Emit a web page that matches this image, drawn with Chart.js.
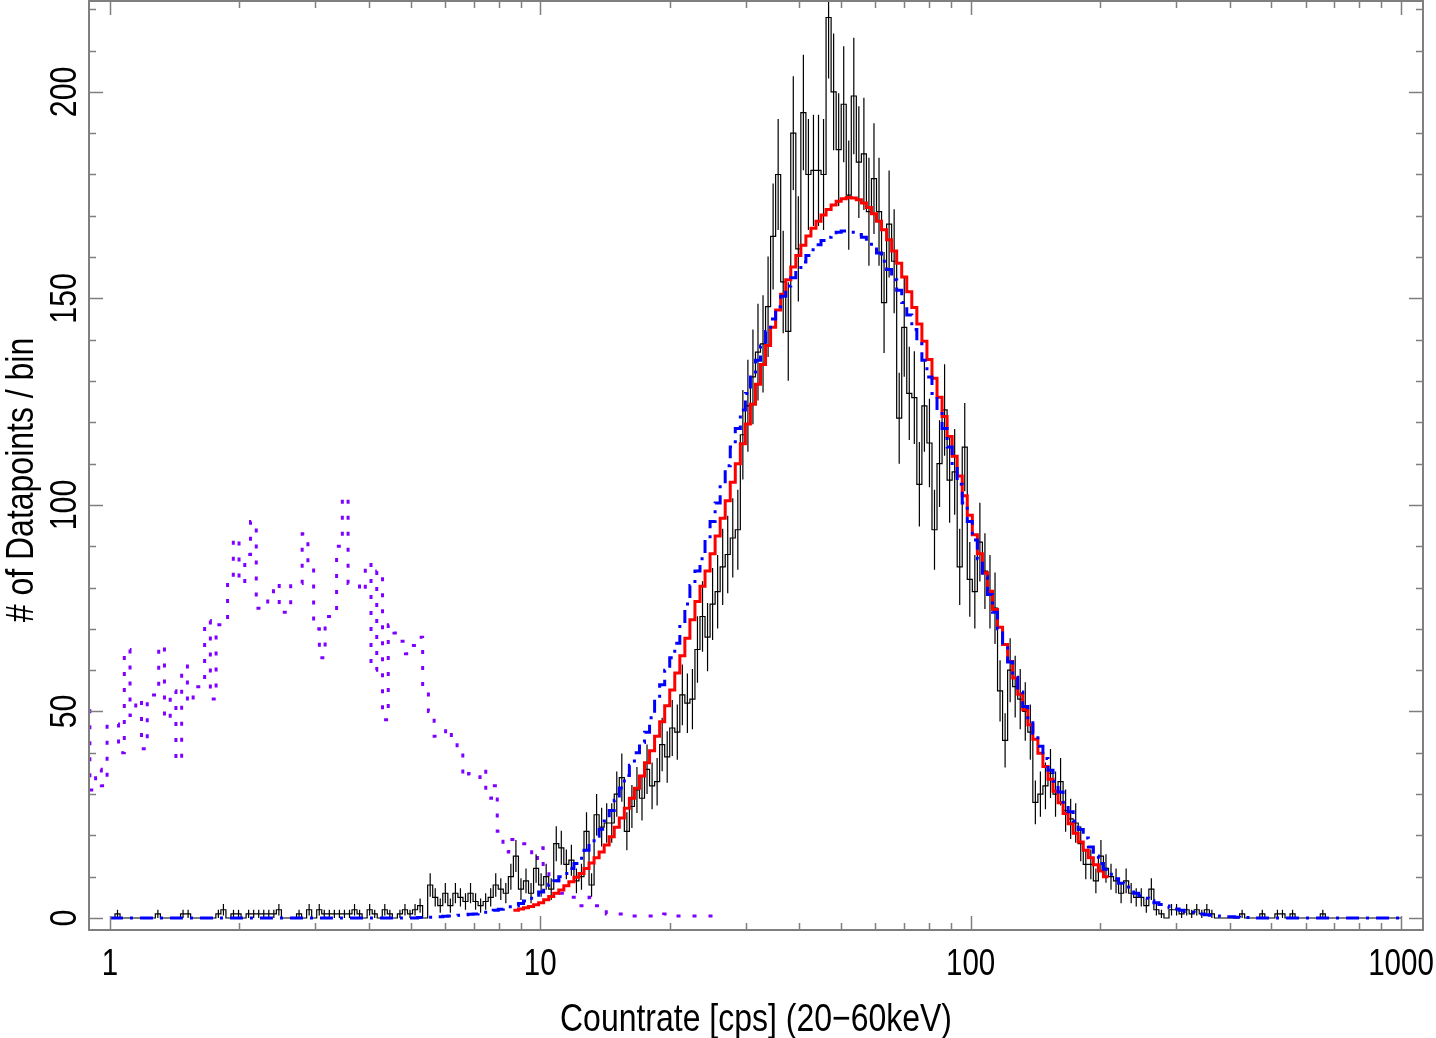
<!DOCTYPE html>
<html>
<head>
<meta charset="utf-8">
<script src="https://cdn.jsdelivr.net/npm/chart.js@4.4.1/dist/chart.umd.min.js"></script>
<style>
  html, body { margin: 0; padding: 0; background: #fff; }
  #chart { display: block; }
</style>
</head>
<body>
<canvas id="chart" width="1436" height="1038"></canvas>
<script>
// log-spaced histogram bins, 1 .. 1000 cps
const histMin = 1;
const histMax = 1000;
const histBins = 256;

// observed distribution (black, with errors)
const blackCounts = [
  0, 1, 0, 0, 0, 0, 0, 0, 0, 1,
  0, 0, 0, 0, 1, 1, 0, 0, 0, 0,
  0, 1, 2, 0, 1, 1, 0, 1, 1, 1,
  1, 1, 1, 2, 0, 0, 0, 1, 0, 2,
  0, 2, 1, 1, 1, 1, 1, 1, 2, 1,
  0, 2, 1, 0, 2, 1, 0, 1, 2, 1,
  2, 3, 0, 8, 5, 3, 6, 3, 6, 5,
  4, 6, 4, 3, 4, 5, 8, 7, 6, 10,
  15, 7, 9, 6, 12, 8, 10, 7, 18, 17,
  13, 14, 9, 10, 21, 8, 25, 22, 23, 23,
  30, 34, 21, 27, 31, 29, 36, 32, 33, 42,
  39, 46, 45, 54, 52, 53, 65, 73, 68, 76,
  79, 85, 88, 92, 94, 117, 124, 131, 137, 139,
  148, 165, 180, 154, 142, 190, 162, 195, 180, 181,
  181, 180, 218, 200, 186, 197, 175, 199, 183, 185,
  171, 179, 171, 149, 168, 159, 121, 143, 127, 126,
  105, 124, 115, 94, 110, 123, 106, 108, 85, 114,
  82, 79, 91, 84, 79, 75, 55, 43, 60, 56,
  53, 50, 45, 28, 30, 32, 35, 30, 33, 26,
  24, 23, 18, 13, 13, 9, 15, 12, 10, 9,
  6, 9, 6, 5, 5, 3, 7, 2, 1, 0,
  2, 2, 1, 2, 1, 2, 1, 2, 1, 0,
  0, 0, 0, 0, 1, 0, 0, 0, 1, 0,
  0, 1, 1, 0, 1, 0, 0, 0, 0, 0,
  1, 0, 0, 0, 0, 0, 0, 0, 0, 0,
  0, 0, 0, 0, 0, 0
];

// red model, starts at bin 80
const redFirstBin = 80;
const redModel = [
  1.9, 2.2, 2.5, 2.8, 3.2, 3.7, 4.4, 5.2, 6.0, 6.8,
  7.8, 8.8, 9.9, 10.8, 12.0, 13.3, 14.6, 16.0, 17.7, 19.7,
  22.0, 24.2, 26.6, 29.0, 31.4, 34.4, 37.6, 40.5, 44.0, 47.5,
  51.4, 55.2, 59.3, 63.5, 67.7, 72.2, 76.6, 80.3, 84.0, 88.2,
  92.5, 96.8, 101.0, 105.5, 110.0, 114.8, 119.6, 124.4, 129.2, 134.0,
  138.6, 143.0, 147.2, 151.0, 154.5, 157.6, 160.4, 162.9, 165.1, 167.0,
  168.7, 170.2, 171.5, 172.6, 173.5, 174.1, 174.4, 174.3, 173.9, 173.1,
  172.0, 170.5, 168.7, 166.6, 164.2, 161.5, 158.5, 155.2, 151.6, 147.8,
  143.8, 139.6, 135.2, 130.7, 126.1, 121.4, 116.6, 111.8, 107.0, 102.2,
  97.5, 92.8, 88.2, 83.6, 79.1, 74.7, 70.4, 66.2, 62.1, 58.1,
  54.2, 50.4, 46.8, 43.3, 39.9, 36.7, 33.6, 30.7, 27.9, 25.3,
  22.8, 20.5, 18.4, 16.4, 14.6, 12.9, 11.4, 10.0
];

// blue model, all bins
const blueModel = [
  0, 0, 0, 0, 0, 0, 0, 0, 0, 0,
  0, 0, 0, 0, 0, 0, 0, 0, 0, 0,
  0, 0, 0, 0, 0, 0, 0, 0, 0, 0,
  0, 0, 0, 0, 0, 0, 0, 0, 0, 0,
  0, 0, 0, 0, 0, 0, 0, 0, 0, 0,
  0, 0, 0, 0, 0, 0, 0, 0, 0, 0,
  0, 0.1, 0.1, 0.2, 0.2, 0.3, 0.4, 0.5, 0.6, 0.7,
  0.8, 0.9, 1.0, 1.2, 1.4, 1.6, 1.9, 2.1, 2.4, 2.7,
  3.0, 3.5, 4.1, 4.8, 5.5, 6.3, 7.2, 8.2, 9.0, 10.0,
  10.8, 12.0, 13.2, 14.5, 16.4, 18.0, 19.8, 21.5, 23.5, 26.0,
  28.5, 31.5, 34.5, 37.0, 40.0, 42.5, 45.0, 48.5, 52.5, 56.5,
  60.0, 63.0, 66.5, 71.0, 76.0, 80.5, 84.0, 87.0, 91.5, 96.0,
  100.5, 105.0, 109.5, 114.0, 118.5, 123.0, 127.0, 131.0, 135.0, 138.5,
  142.0, 145.0, 148.0, 150.5, 153.0, 155.0, 157.0, 158.8, 160.4, 161.8,
  163.0, 164.0, 164.8, 165.5, 166.0, 166.3, 166.3, 166.0, 165.5, 164.8,
  163.8, 162.5, 161.0, 159.0, 157.0, 154.5, 152.0, 149.0, 146.0, 142.5,
  139.0, 135.0, 131.0, 127.0, 122.8, 118.5, 114.0, 109.5, 105.0, 100.5,
  96.0, 91.5, 87.0, 82.6, 78.3, 74.0, 70.0, 66.0, 62.0, 58.3,
  54.7, 51.2, 47.9, 44.7, 41.6, 38.6, 35.8, 33.1, 30.5, 28.0,
  25.7, 23.5, 21.4, 19.4, 17.2, 15.0, 13.2, 11.8, 10.6, 9.5,
  8.4, 7.5, 6.7, 6.0, 5.4, 4.8, 4.2, 3.7, 3.3, 2.9,
  2.5, 2.2, 1.9, 1.6, 1.4, 1.2, 1.0, 0.8, 0.7, 0.5,
  0.4, 0.3, 0.3, 0.2, 0.1, 0.1, 0, 0, 0, 0,
  0, 0, 0, 0, 0, 0, 0, 0, 0, 0,
  0, 0, 0, 0, 0, 0, 0, 0, 0, 0,
  0, 0, 0, 0, 0, 0
];

// purple (dotted) distribution, its own binning: 75 bins per decade
const purpleStartLog = -0.06;
const purpleBinsPerDecade = 75;
const purpleCounts = [
  53, 31, 36, 32, 47, 47, 40, 65, 49, 53,
  41, 54, 54, 66, 48, 55, 38, 61, 52, 56,
  56, 72, 53, 71, 71, 83, 92, 81, 88, 96,
  75, 75, 79, 81, 74, 74, 81, 81, 93, 85,
  70, 63, 73, 73, 90, 102, 81, 81, 79, 86,
  60, 84, 48, 71, 69, 67, 64, 66, 68, 55,
  50, 44, 44, 46, 43, 40, 34, 35, 34, 36,
  29, 32, 21, 16, 19, 18, 18, 18, 14, 17,
  12, 10, 9, 6, 5, 5, 3, 3, 5, 3,
  3, 1, 1, 1, 0.5, 0.5, 0.5, 0.5, 0.5, 0.5,
  0.5, 1, 1, 0.5, 0.5, 0.5, 0.5, 0.5, 0.5, 0.5
];

const xMajorTicks = [1, 10, 100, 1000];
const xMinorTicks = [2, 3, 4, 5, 6, 7, 8, 9, 20, 30, 40, 50, 60, 70, 80, 90,
  200, 300, 400, 500, 600, 700, 800, 900];
const yMajorTicks = [0, 50, 100, 150, 200];
const yMinorTicks = [10, 20, 30, 40, 60, 70, 80, 90, 110, 120, 130, 140,
  160, 170, 180, 190, 210, 220];

const xTitle = "Countrate [cps] (20\u221260keV)";
const yTitle = "# of Datapoints / bin";

function histEdge(i) {
  return histMin * Math.pow(histMax / histMin, i / histBins);
}

function purpleEdge(i) {
  return Math.pow(10, purpleStartLog + i / purpleBinsPerDecade);
}

// histogram outline: one point per left edge, plus closing right edge
function stepPoints(values, firstBin, edgeFn) {
  let pts = values.map((v, i) => ({ x: edgeFn(firstBin + i), y: v }));
  pts.push({ x: edgeFn(firstBin + values.length), y: values[values.length - 1] });
  return pts;
}

function errorBarPoints(values) {
  let pts = [];
  values.forEach((v, i) => {
    if (v <= 0) return;
    let c = histEdge(i + 0.5);
    let e = Math.sqrt(v);
    pts.push({ x: c, y: v - e }, { x: c, y: v + e }, { x: c, y: null });
  });
  return pts;
}

function drawText(ctx, text, x, y, size, rotate) {
  ctx.save();
  ctx.translate(x, y);
  if (rotate) ctx.rotate(-Math.PI / 2);
  ctx.scale(0.82, 1);
  ctx.font = size + 'px "Liberation Sans", Arial, Helvetica, sans-serif';
  ctx.fillStyle = "#000";
  ctx.textAlign = "center";
  ctx.textBaseline = "alphabetic";
  ctx.fillText(text, 0, 0);
  ctx.restore();
}

const framePlugin = {
  id: "frame",
  afterDatasetsDraw(chart) {
    const ctx = chart.ctx;
    const area = chart.chartArea;
    const xs = chart.scales.x;
    const ys = chart.scales.y;

    ctx.save();
    ctx.strokeStyle = "#7f7f7f";
    ctx.lineWidth = 1.5;
    ctx.beginPath();
    const tickX = (v, len) => {
      let px = Math.round(xs.getPixelForValue(v)) + 0.5;
      ctx.moveTo(px, area.bottom); ctx.lineTo(px, area.bottom - len);
      ctx.moveTo(px, area.top); ctx.lineTo(px, area.top + len);
    };
    const tickY = (v, len) => {
      let py = Math.round(ys.getPixelForValue(v)) + 0.5;
      ctx.moveTo(area.left, py); ctx.lineTo(area.left + len, py);
      ctx.moveTo(area.right, py); ctx.lineTo(area.right - len, py);
    };
    xMajorTicks.forEach(v => tickX(v, 14));
    xMinorTicks.forEach(v => tickX(v, 7));
    yMajorTicks.forEach(v => tickY(v, 14));
    yMinorTicks.forEach(v => tickY(v, 7));
    ctx.stroke();

    ctx.lineWidth = 2;
    ctx.strokeRect(area.left, area.top, area.right - area.left, area.bottom - area.top);
    ctx.restore();

    xMajorTicks.forEach(v => drawText(ctx, String(v), xs.getPixelForValue(v), 975, 36, false));
    yMajorTicks.forEach(v => drawText(ctx, String(v), 76, ys.getPixelForValue(v), 37, true));
    drawText(ctx, xTitle, (area.left + area.right) / 2, 1031, 39, false);
    drawText(ctx, yTitle, 33, 480, 39, true);
  }
};

const chart = new Chart(document.getElementById("chart"), {
  type: "line",
  data: {
    datasets: [
      {
        label: "model 2",
        data: stepPoints(blueModel, 0, histEdge),
        stepped: true,
        borderColor: "#0000ff",
        borderWidth: 3,
        borderDash: [13, 7, 3, 7]
      },
      {
        label: "model 1",
        data: stepPoints(redModel, redFirstBin, histEdge),
        stepped: true,
        borderColor: "#ff0000",
        borderWidth: 3
      },
      {
        label: "data",
        data: stepPoints(blackCounts, 0, histEdge),
        stepped: true,
        borderColor: "#000000",
        borderWidth: 1.2
      },
      {
        label: "errors",
        data: errorBarPoints(blackCounts),
        spanGaps: false,
        borderColor: "#000000",
        borderWidth: 1.2
      },
      {
        label: "other",
        data: stepPoints(purpleCounts, 0, purpleEdge),
        stepped: true,
        borderColor: "#7f00ff",
        borderWidth: 3,
        borderDash: [4, 12]
      }
    ]
  },
  options: {
    responsive: false,
    animation: false,
    devicePixelRatio: 1,
    layout: { padding: { left: 89, right: 13, top: 1, bottom: 108 } },
    elements: { point: { radius: 0 }, line: { tension: 0 } },
    plugins: { legend: { display: false }, tooltip: { enabled: false } },
    scales: {
      x: { type: "logarithmic", min: 0.894, max: 1125, display: false },
      y: { type: "linear", min: -2.9, max: 222, display: false }
    }
  },
  plugins: [framePlugin]
});
</script>
</body>
</html>
